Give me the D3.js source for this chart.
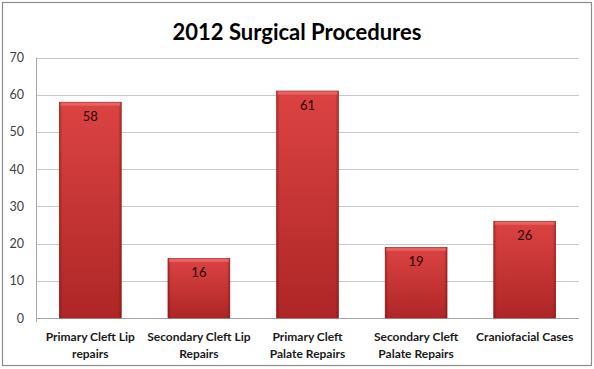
<!DOCTYPE html>
<html>
<head>
<meta charset="utf-8">
<script src="https://cdn.jsdelivr.net/npm/d3@7"></script>
<style>
  body { margin: 0; background: white; }
  svg { display: block; font-family: Lato, "Open Sans", sans-serif; }
</style>
</head>
<body>
<script>
// chart data
var categories = [
  ["Primary Cleft Lip", "repairs"],
  ["Secondary Cleft Lip", "Repairs"],
  ["Primary Cleft", "Palate Repairs"],
  ["Secondary Cleft", "Palate Repairs"],
  ["Craniofacial Cases"]
];
var values = [58, 16, 61, 19, 26];
var yTicks = [0, 10, 20, 30, 40, 50, 60, 70];
var title = "2012 Surgical Procedures";

var w = 594, h = 369;
var plot = {left: 36, right: 579, top: 57.5, bottom: 318};

var svg = d3.select("body").append("svg")
  .attr("width", w)
  .attr("height", h);

var defs = svg.append("defs");
var vgrad = defs.append("linearGradient").attr("id", "barv")
  .attr("x1", 0).attr("y1", 0).attr("x2", 0).attr("y2", 1);
vgrad.append("stop").attr("offset", "0%").attr("stop-color", "#dc4343");
vgrad.append("stop").attr("offset", "100%").attr("stop-color", "#ae2626");

var hgrad = defs.append("linearGradient").attr("id", "barh")
  .attr("x1", 0).attr("y1", 0).attr("x2", 1).attr("y2", 0);
hgrad.append("stop").attr("offset", "0%").attr("stop-color", "#5a0000").attr("stop-opacity", 0.35);
hgrad.append("stop").attr("offset", "5%").attr("stop-color", "#5a0000").attr("stop-opacity", 0);
hgrad.append("stop").attr("offset", "95%").attr("stop-color", "#5a0000").attr("stop-opacity", 0);
hgrad.append("stop").attr("offset", "100%").attr("stop-color", "#5a0000").attr("stop-opacity", 0.35);

// outer border
svg.append("rect")
  .attr("x", 2.5).attr("y", 2.5)
  .attr("width", w - 5).attr("height", h - 6)
  .attr("fill", "white")
  .attr("stroke", "#8c8c8c")
  .attr("stroke-width", 1.2);

svg.append("text")
  .attr("x", 297)
  .attr("y", 40)
  .attr("text-anchor", "middle")
  .style("font-size", "22px")
  .style("font-weight", "bold")
  .style("fill", "#000")
  .text(title);

var x = d3.scaleBand()
  .domain(d3.range(values.length))
  .range([plot.left, plot.right])
  .paddingInner(0.43)
  .paddingOuter(0.215);

var y = d3.scaleLinear()
  .domain([0, 70])
  .range([plot.bottom, plot.top]);

// gridlines
svg.append("g")
  .selectAll("line")
  .data(yTicks)
  .join("line")
  .attr("x1", plot.left).attr("x2", plot.right)
  .attr("y1", function(d){ return Math.round(y(d)) + 0.5; })
  .attr("y2", function(d){ return Math.round(y(d)) + 0.5; })
  .attr("stroke", function(d){ return d === 0 ? "#a6a6a6" : "#c8c8c8"; });

// y axis line
svg.append("line")
  .attr("x1", plot.left + 0.5).attr("x2", plot.left + 0.5)
  .attr("y1", plot.top).attr("y2", plot.bottom + 4)
  .attr("stroke", "#a6a6a6");

svg.append("g")
  .selectAll("text")
  .data(yTicks)
  .join("text")
  .attr("x", 24)
  .attr("y", function(d){ return y(d) + 4.5; })
  .attr("text-anchor", "end")
  .style("font-size", "12.5px")
  .style("fill", "#404040")
  .text(function(d){ return d; });

// bars
var bars = svg.append("g").selectAll("g")
  .data(values)
  .join("g");

bars.append("rect")
  .attr("x", function(d, i){ return x(i); })
  .attr("y", function(d){ return y(d); })
  .attr("width", x.bandwidth())
  .attr("height", function(d){ return y(0) - y(d); })
  .attr("fill", "url(#barv)")
  .attr("stroke", "#9a2020")
  .attr("stroke-width", 0.6);

bars.append("rect")
  .attr("x", function(d, i){ return x(i); })
  .attr("y", function(d){ return y(d); })
  .attr("width", x.bandwidth())
  .attr("height", function(d){ return y(0) - y(d); })
  .attr("fill", "url(#barh)");

// top bevel
bars.append("rect")
  .attr("x", function(d, i){ return x(i) + 1; })
  .attr("y", function(d){ return y(d) + 0.5; })
  .attr("width", x.bandwidth() - 2)
  .attr("height", 3)
  .attr("fill", "#ea6a6a")
  .attr("opacity", 0.8);

bars.append("text")
  .attr("x", function(d, i){ return x(i) + x.bandwidth() / 2; })
  .attr("y", function(d){ return y(d) + 19; })
  .attr("text-anchor", "middle")
  .style("font-size", "13px")
  .style("fill", "#2a0505")
  .text(function(d){ return d; });

// category labels
var cats = svg.append("g").selectAll("text")
  .data(categories)
  .join("text")
  .attr("x", function(d, i){ return x(i) + x.bandwidth() / 2; })
  .attr("y", 340.5)
  .attr("text-anchor", "middle")
  .style("font-size", "12px")
  .style("font-weight", "bold")
  .style("fill", "#1a1a1a");

cats.selectAll("tspan")
  .data(function(d){ return d; })
  .join("tspan")
  .attr("x", function(){ return d3.select(this.parentNode).attr("x"); })
  .attr("dy", function(d, i){ return i === 0 ? 0 : 17; })
  .text(function(d){ return d; });
</script>
</body>
</html>
